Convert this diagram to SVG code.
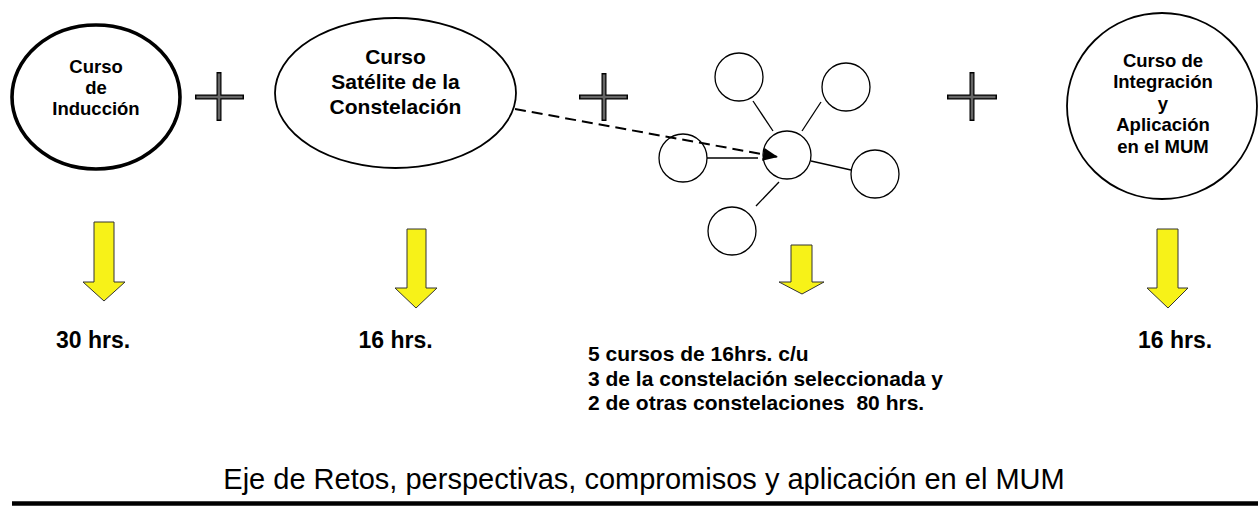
<svg xmlns="http://www.w3.org/2000/svg" width="1260" height="510" viewBox="0 0 1260 510">
<style>
.b{font-family:"Liberation Sans",Arial,sans-serif;font-weight:bold;fill:#000;text-anchor:middle}
.node{fill:#fff;stroke:#000}
.sat{fill:#fff;stroke:#000;stroke-width:1.3}
.edge{stroke:#000;stroke-width:1.3;fill:none}
.ya{fill:#f7f218;stroke:#333;stroke-width:1}
.po{stroke:#000;stroke-width:5;fill:none}
.pi{stroke:#666;stroke-width:2.6;fill:none}
.hrs{font-size:23px}
.mid{font-family:"Liberation Sans",Arial,sans-serif;font-weight:bold;font-size:21px;fill:#000}
</style>
<defs>
<marker id="ah" markerUnits="userSpaceOnUse" markerWidth="16" markerHeight="14" refX="15" refY="6.5" orient="auto">
<path d="M0,0 L15,6.5 L0,13 z" fill="#000"/>
</marker>
</defs>
<rect width="1260" height="510" fill="#fff"/>

<g id="induccion">
<ellipse class="node" cx="96" cy="97" rx="84" ry="72" stroke-width="3.6"/>
<text class="b" font-size="18.5" x="96" y="73">Curso</text>
<text class="b" font-size="18.5" x="96" y="94">de</text>
<text class="b" font-size="18.5" x="96" y="115">Inducción</text>
</g>

<g id="satelite">
<ellipse class="node" cx="395.5" cy="93" rx="120.5" ry="75" stroke-width="1.8"/>
<text class="b" font-size="21" x="395.5" y="64">Curso</text>
<text class="b" font-size="21" x="395.5" y="89">Satélite de la</text>
<text class="b" font-size="21" x="395.5" y="114">Constelación</text>
</g>

<g id="integracion">
<ellipse class="node" cx="1162" cy="106" rx="95" ry="93" stroke-width="1.8"/>
<text class="b" font-size="18.5" x="1163" y="67">Curso de</text>
<text class="b" font-size="18.5" x="1163" y="88">Integración</text>
<text class="b" font-size="18.5" x="1163" y="109.5">y</text>
<text class="b" font-size="18.5" x="1163" y="131">Aplicación</text>
<text class="b" font-size="18.5" x="1163" y="152.5">en el MUM</text>
</g>

<g id="constelacion">
<circle id="c-center" class="sat" cx="787" cy="155" r="24"/>
<circle id="c-tl" class="sat" cx="739" cy="77" r="24"/>
<circle id="c-tr" class="sat" cx="846" cy="87" r="24"/>
<circle id="c-l" class="sat" cx="683" cy="158" r="24"/>
<circle id="c-r" class="sat" cx="875" cy="174" r="24"/>
<circle id="c-bl" class="sat" cx="732" cy="231" r="24"/>
</g>

<g id="plus">
<path class="po" d="M195,97 H244 M219,72 V121"/>
<path class="pi" d="M196.5,97 H242.5 M219,73.5 V119.5"/>
<path class="po" d="M579,97 H628 M604,73 V121"/>
<path class="pi" d="M580.5,97 H626.5 M604,74.5 V119.5"/>
<path class="po" d="M947,97 H997 M972,72 V121"/>
<path class="pi" d="M948.5,97 H995.5 M972,73.5 V119.5"/>
</g>

<g id="connectors">
<line class="edge" x1="753" y1="101" x2="773" y2="131"/>
<line class="edge" x1="821" y1="102" x2="802" y2="131"/>
<line class="edge" x1="707" y1="158" x2="758" y2="158" stroke-width="1.8"/>
<line class="edge" x1="811" y1="161" x2="851" y2="170"/>
<line class="edge" x1="779" y1="182" x2="756" y2="206" stroke-width="1.8"/>
<line x1="515" y1="109" x2="778" y2="157" stroke="#000" stroke-width="2" stroke-dasharray="11,6" marker-end="url(#ah)"/>
</g>

<g id="arrows">
<path class="ya" d="M94,222 H114 V282 H125 L104,301 L83,282 H94 Z"/>
<path class="ya" d="M407,229 H426 V288 H437 L416,308 L395,288 H407 Z"/>
<path class="ya" d="M791,245 H812 V282 H824 L802,294 L779,282 H791 Z"/>
<path class="ya" d="M1157,229 H1178 V288 H1188 L1168,308 L1147,288 H1157 Z"/>
</g>

<g id="labels">
<text class="b hrs" x="93" y="348">30 hrs.</text>
<text class="b hrs" x="395.5" y="348">16 hrs.</text>
<text class="b hrs" x="1175" y="348">16 hrs.</text>
<text class="mid" x="588" y="361">5 cursos de 16hrs. c/u</text>
<text class="mid" x="588" y="385.5">3 de la constelación seleccionada y</text>
<text class="mid" x="588" y="410" xml:space="preserve">2 de otras constelaciones  80 hrs.</text>
</g>

<g id="eje">
<text x="644" y="489" font-family="'Liberation Sans',Arial,sans-serif" font-size="29" text-anchor="middle" fill="#000">Eje de Retos, perspectivas, compromisos y aplicación en el MUM</text>
<line x1="12" y1="503.5" x2="1258" y2="503.5" stroke="#000" stroke-width="4.5"/>
</g>
</svg>
